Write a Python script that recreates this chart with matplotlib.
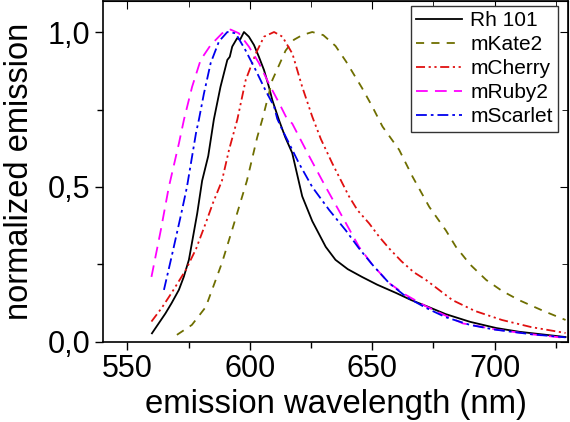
import matplotlib
matplotlib.use("Agg")
import matplotlib.pyplot as plt
from matplotlib.ticker import FuncFormatter, MultipleLocator

plt.rcParams['font.family'] = ['Liberation Sans', 'DejaVu Sans']

# ---- data ----
rh_x = [560, 565.5, 568, 571, 573, 575.1, 578.5, 580.5, 583, 585.3, 588, 590.8, 591.8, 592.8, 594.8, 596, 597.6, 599.6, 601.7, 603.7, 605.8, 607.8, 609.2, 611.9, 614.5, 617.3, 621.4, 625.5, 631, 635, 640, 645.8, 652, 659.8, 666, 673, 680, 690, 700.7, 710, 720, 729]
rh_y = [0.028, 0.092, 0.125, 0.168, 0.21, 0.265, 0.415, 0.52, 0.6, 0.718, 0.823, 0.91, 0.92, 0.953, 0.98, 0.975, 1.0, 0.985, 0.958, 0.92, 0.877, 0.823, 0.78, 0.716, 0.66, 0.61, 0.47, 0.39, 0.307, 0.265, 0.235, 0.21, 0.185, 0.158, 0.135, 0.113, 0.09, 0.065, 0.045, 0.033, 0.024, 0.016]

kate_x = [570.2, 576.3, 582, 588.6, 592.7, 598.8, 603, 605.1, 609.2, 614.6, 618, 621.4, 625.5, 630, 635, 639.3, 645.8, 650, 654.2, 661, 666.5, 673.3, 680.1, 684.2, 690, 696.6, 703, 710, 720, 729]
kate_y = [0.023, 0.055, 0.113, 0.255, 0.36, 0.52, 0.66, 0.718, 0.845, 0.94, 0.975, 0.99, 1.0, 0.99, 0.955, 0.905, 0.82, 0.76, 0.695, 0.62, 0.533, 0.436, 0.36, 0.307, 0.25, 0.2, 0.165, 0.135, 0.1, 0.071]

cherry_x = [559.8, 564, 568, 573.8, 578, 582, 585, 588.6, 591.5, 594.9, 598.3, 602.4, 605.8, 609.9, 613.3, 617.4, 621.4, 625.5, 629, 633.7, 640.5, 644, 648.7, 652.8, 656.9, 662, 667, 672, 682.8, 692, 703, 715, 729]
cherry_y = [0.066, 0.11, 0.158, 0.232, 0.3, 0.384, 0.45, 0.52, 0.62, 0.718, 0.845, 0.93, 0.985, 1.0, 0.985, 0.93, 0.823, 0.727, 0.655, 0.576, 0.47, 0.425, 0.383, 0.34, 0.302, 0.26, 0.225, 0.2, 0.135, 0.1, 0.071, 0.048, 0.029]

ruby_x = [559.8, 563.6, 566.9, 571, 573.1, 576.4, 579.9, 584, 588.7, 592.1, 595.5, 599.6, 603.7, 608, 612, 615.3, 617.3, 624.2, 631, 637.8, 644.6, 650, 656.9, 663.7, 672, 680, 687, 700.7, 715, 729]
ruby_y = [0.21, 0.36, 0.5, 0.64, 0.718, 0.823, 0.91, 0.958, 0.996, 1.008, 0.996, 0.953, 0.9, 0.83, 0.77, 0.718, 0.705, 0.6, 0.5, 0.404, 0.307, 0.25, 0.19, 0.152, 0.115, 0.085, 0.06, 0.04, 0.025, 0.013]

scarlet_x = [564.9, 568, 572, 574.3, 578, 579.2, 581.2, 584, 587.4, 590.8, 594.2, 598.3, 602.4, 606.5, 609.9, 611.2, 613.3, 620.1, 625.5, 632.4, 639.2, 644.6, 650, 656.9, 664, 672, 680, 690, 700, 715, 729]
scarlet_y = [0.168, 0.274, 0.415, 0.5, 0.674, 0.718, 0.8, 0.9, 0.97, 1.0, 0.996, 0.94, 0.877, 0.81, 0.76, 0.72, 0.684, 0.576, 0.5, 0.426, 0.36, 0.302, 0.25, 0.19, 0.145, 0.11, 0.08, 0.055, 0.04, 0.025, 0.015]

labels = ["Rh 101", "mKate2", "mCherry", "mRuby2", "mScarlet"]
x_ticks = [550, 600, 650, 700]
y_ticks = [0.0, 0.5, 1.0]

# ---- figure ----
fig = plt.figure(figsize=(5.70, 4.22), dpi=100)
ax = fig.add_axes([0.1807, 0.1896, 0.8158, 0.808])

lw = 1.3
ax.plot(rh_x, rh_y, color='black', lw=lw, label=labels[0])
ax.plot(kate_x, kate_y, color='#6e6e00', lw=lw, dashes=(4.5, 4), label=labels[1])
ax.plot(cherry_x, cherry_y, color='#e01010', lw=lw, dashes=(5, 2, 1.2, 2, 1.2, 2), label=labels[2])
ax.plot(ruby_x, ruby_y, color='#ff00ff', lw=lw, dashes=(6.5, 4), label=labels[3])
ax.plot(scarlet_x, scarlet_y, color='#0000ee', lw=lw, dashes=(6, 2.2, 1.5, 2.2), label=labels[4])

ax.set_xlim(540, 730)
ax.set_ylim(0, 1.1)
ax.set_xticks(x_ticks)
ax.set_yticks(y_ticks)
ax.xaxis.set_minor_locator(MultipleLocator(25))
ax.yaxis.set_minor_locator(MultipleLocator(0.25))
ax.yaxis.set_major_formatter(FuncFormatter(lambda v, p: f"{v:.1f}".replace('.', ',')))

ax.tick_params(which='major', direction='out', length=6, width=1, labelsize=22, pad=3)
ax.tick_params(which='minor', direction='out', length=4, width=1)
for s in ax.spines.values():
    s.set_linewidth(1.2)

top = ax.secondary_xaxis('top')
top.set_xticks(x_ticks)
top.xaxis.set_minor_locator(MultipleLocator(25))
top.tick_params(which='major', direction='in', length=6, labeltop=False)
top.tick_params(which='minor', direction='in', length=4)
right = ax.secondary_yaxis('right')
right.set_yticks(y_ticks)
right.yaxis.set_minor_locator(MultipleLocator(0.25))
right.tick_params(which='major', direction='in', length=6, labelright=False)
right.tick_params(which='minor', direction='in', length=4)

ax.set_xlabel("emission wavelength (nm)", fontsize=23.7, labelpad=3)
ax.set_ylabel("normalized emission", fontsize=23.5, labelpad=9)

leg = ax.legend(loc='upper right', bbox_to_anchor=(0.9785, 0.985), fontsize=15,
                frameon=True, fancybox=False, edgecolor='#333333', framealpha=1,
                handlelength=2.2, handletextpad=0.4, labelspacing=0.24,
                borderpad=0.25, borderaxespad=0)
leg.get_frame().set_linewidth(1.0)

fig.savefig("out.png", dpi=100)
